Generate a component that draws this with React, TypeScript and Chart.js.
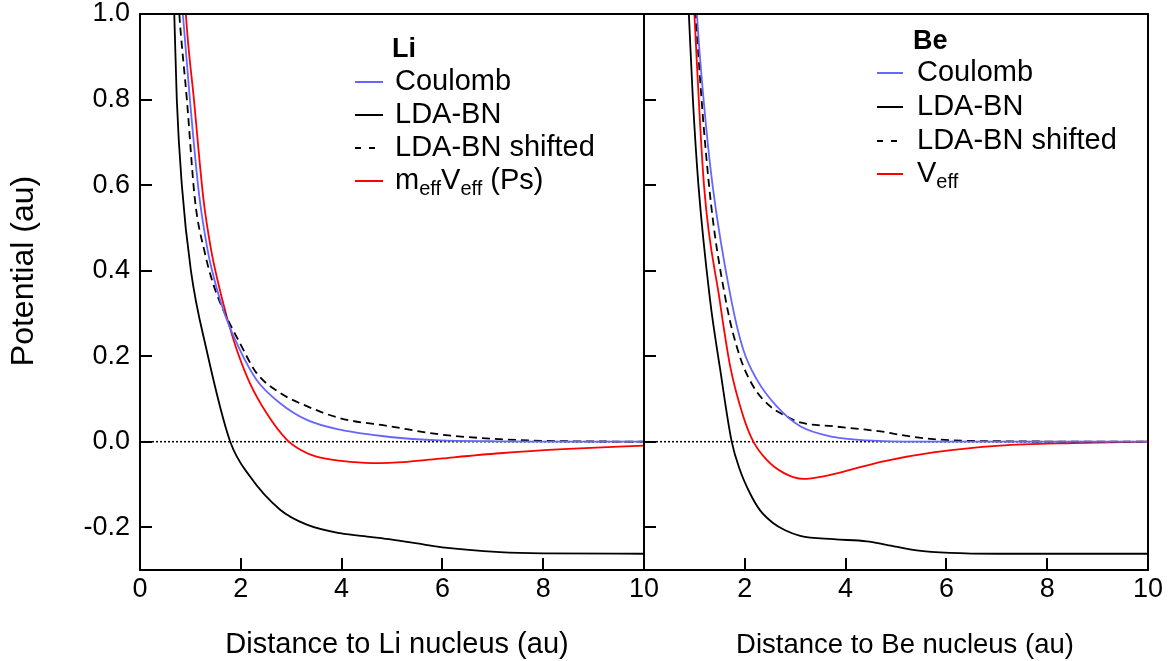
import { useEffect, useRef } from "react";
import { Chart, registerables } from "chart.js";

Chart.register(...registerables);

const FONT = '"Liberation Sans", Arial, Helvetica, sans-serif';
const BLUE = "rgb(102,102,255)";
const RED = "rgb(255,0,0)";

// tick values
const xTickValues = [0, 2, 4, 6, 8, 10];
const yTickValues = [-0.2, 0, 0.2, 0.4, 0.6, 0.8, 1.0];

// zero reference line
const zeroX = [0, 10];
const zeroY = [0, 0];

// ---- Li panel ----
const liCoulombX = [0.78, 0.85, 0.99, 1.17, 1.34, 1.42, 1.65, 1.98, 2.31, 2.78, 3.31, 3.97, 4.96, 5.95, 7.0, 8.0, 10];
const liCoulombY = [1.12, 1.0, 0.8, 0.58, 0.449, 0.405, 0.309, 0.215, 0.145, 0.09, 0.051, 0.028, 0.011, 0.003, 0.001, 0.0, 0.0];

const liLdaX = [0.64, 0.68, 0.73, 0.83, 1.01, 1.32, 1.79, 2.18, 2.78, 3.31, 3.97, 4.6, 5.0, 5.5, 6.0, 7.14, 8.0, 10];
const liLdaY = [1.12, 1.0, 0.8, 0.6, 0.4, 0.215, 0.0, -0.081, -0.159, -0.194, -0.214, -0.223, -0.229, -0.238, -0.247, -0.258, -0.261, -0.262];

const liShiftX = [0.72, 0.78, 0.93, 1.09, 1.29, 1.45, 1.65, 1.98, 2.31, 2.78, 3.31, 3.97, 4.96, 5.95, 7.14, 8.0, 10];
const liShiftY = [1.12, 1.0, 0.8, 0.566, 0.44, 0.37, 0.309, 0.231, 0.161, 0.114, 0.083, 0.055, 0.036, 0.017, 0.006, 0.002, 0.0];

const liVeffX = [0.86, 0.91, 1.07, 1.26, 1.41, 1.52, 1.72, 1.92, 2.18, 2.51, 2.91, 3.2, 3.5, 4.0, 4.6, 5.3, 6.0, 7.14, 8.5, 10];
const liVeffY = [1.12, 1.0, 0.8, 0.566, 0.449, 0.387, 0.293, 0.215, 0.137, 0.067, 0.005, -0.02, -0.035, -0.045, -0.05, -0.047, -0.039, -0.027, -0.017, -0.009];

const liLabels = ["Coulomb", "LDA-BN", "LDA-BN shifted", "m_{eff}V_{eff} (Ps)"];

// ---- Be panel ----
const beCoulombX = [1.0, 1.05, 1.19, 1.36, 1.73, 1.97, 2.24, 2.63, 3.1, 3.76, 4.42, 5.5, 10];
const beCoulombY = [1.12, 1.0, 0.79, 0.6, 0.332, 0.215, 0.145, 0.083, 0.036, 0.011, 0.003, 0.0, 0.0];

const beLdaX = [0.85, 0.89, 0.97, 1.08, 1.31, 1.51, 1.74, 1.9, 2.1, 2.3, 2.56, 2.8, 3.1, 3.76, 4.42, 4.81, 5.41, 6.07, 7.06, 10];
const beLdaY = [1.1, 1.0, 0.8, 0.6, 0.332, 0.17, 0.0, -0.065, -0.12, -0.16, -0.19, -0.207, -0.22, -0.228, -0.233, -0.241, -0.254, -0.26, -0.262, -0.262];

const beShiftX = [0.99, 1.03, 1.29, 1.62, 1.9, 2.17, 2.5, 2.83, 3.1, 3.76, 4.42, 4.81, 5.08, 5.74, 7.06, 10];
const beShiftY = [1.1, 1.0, 0.6, 0.332, 0.2, 0.129, 0.083, 0.059, 0.045, 0.036, 0.028, 0.022, 0.016, 0.006, 0.001, 0.0];

const beVeffX = [0.96, 1.0, 1.19, 1.5, 1.71, 1.97, 2.17, 2.43, 2.77, 3.16, 3.56, 4.09, 4.75, 5.74, 7.06, 8.5, 10];
const beVeffY = [1.1, 1.0, 0.6, 0.332, 0.176, 0.059, 0.0, -0.042, -0.073, -0.087, -0.081, -0.066, -0.046, -0.025, -0.009, -0.003, 0.0];

const beLabels = ["Coulomb", "LDA-BN", "LDA-BN shifted", "V_{eff}"];

const seriesColors = [BLUE, "#000", "#000", RED];
const seriesDashes: number[][] = [[], [], [8, 5], []];

const pts = (xs: number[], ys: number[]) => xs.map((x, i) => ({ x, y: ys[i] }));

function drawRich(ctx: CanvasRenderingContext2D, text: string, x: number, y: number, size: number) {
  const re = /_\{([^}]*)\}/g;
  const parts: { t: string; sub: boolean }[] = [];
  let last = 0;
  let m: RegExpExecArray | null;
  while ((m = re.exec(text))) {
    if (m.index > last) parts.push({ t: text.slice(last, m.index), sub: false });
    parts.push({ t: m[1], sub: true });
    last = re.lastIndex;
  }
  if (last < text.length) parts.push({ t: text.slice(last), sub: false });
  let cx = x;
  for (const p of parts) {
    const fs = p.sub ? Math.round(size * 0.68) : size;
    ctx.font = `${fs}px ${FONT}`;
    ctx.fillText(p.t, cx, p.sub ? y + size * 0.3 : y);
    cx += ctx.measureText(p.t).width;
  }
}

interface PanelCfg {
  width: number;
  offset: number;
  yAxisWidth: number;
  padRight: number;
  showYLabels: boolean;
  hideFirstX: boolean;
  xTitle: string;
  xTitleX: number;
  xTitleSize: number;
  yTitle?: string;
  legendTitle: string;
  legendTitleX: number;
  legendTitleY: number;
  legendLineX0: number;
  legendLineX1: number;
  legendTextX: number;
  legendRows: number[];
  labels: string[];
  series: { x: number[]; y: number[] }[];
}

function makePlugin(cfg: PanelCfg) {
  return {
    id: "frameAndLegend",
    afterDatasetsDraw(chart: any) {
      const ctx: CanvasRenderingContext2D = chart.ctx;
      const { left, right, top, bottom } = chart.chartArea;
      const xs = chart.scales.x;
      const ys = chart.scales.y;
      const o = cfg.offset;
      ctx.save();
      ctx.strokeStyle = "#000";
      ctx.lineWidth = 2;
      ctx.setLineDash([]);
      ctx.strokeRect(left, top, right - left, bottom - top);
      ctx.beginPath();
      for (const v of yTickValues) {
        const py = Math.round(ys.getPixelForValue(v));
        ctx.moveTo(left, py);
        ctx.lineTo(left + 12, py);
      }
      for (const v of xTickValues) {
        const px = Math.round(xs.getPixelForValue(v));
        ctx.moveTo(px, bottom);
        ctx.lineTo(px, bottom - 12);
      }
      ctx.stroke();

      // legend
      ctx.fillStyle = "#000";
      ctx.textBaseline = "middle";
      ctx.textAlign = "left";
      ctx.font = `bold 27px ${FONT}`;
      ctx.fillText(cfg.legendTitle, cfg.legendTitleX - o, cfg.legendTitleY);
      cfg.labels.forEach((lab, i) => {
        const y = cfg.legendRows[i];
        ctx.strokeStyle = seriesColors[i];
        ctx.lineWidth = 2;
        ctx.setLineDash(seriesDashes[i].length ? [6, 8] : []);
        ctx.beginPath();
        ctx.moveTo(cfg.legendLineX0 - o, y);
        ctx.lineTo(cfg.legendLineX1 - o, y);
        ctx.stroke();
        ctx.setLineDash([]);
        ctx.fillStyle = "#000";
        drawRich(ctx, lab, cfg.legendTextX - o, y, 29);
      });

      // axis titles
      ctx.textAlign = "center";
      ctx.font = `${cfg.xTitleSize}px ${FONT}`;
      ctx.fillText(cfg.xTitle, cfg.xTitleX - o, 645);
      if (cfg.yTitle) {
        ctx.save();
        ctx.translate(24 - o, 271);
        ctx.rotate(-Math.PI / 2);
        ctx.font = `32px ${FONT}`;
        ctx.fillText(cfg.yTitle, 0, 0);
        ctx.restore();
      }
      ctx.restore();
    },
  };
}

function makeChart(canvas: HTMLCanvasElement, cfg: PanelCfg) {
  const datasets: any[] = cfg.series.map((s, i) => ({
    data: pts(s.x, s.y),
    borderColor: seriesColors[i],
    borderWidth: 1.8,
    borderDash: seriesDashes[i],
    pointRadius: 0,
    cubicInterpolationMode: "monotone",
    fill: false,
  }));
  datasets.push({
    data: pts(zeroX, zeroY),
    borderColor: "#000",
    borderWidth: 1.5,
    borderDash: [2, 2],
    pointRadius: 0,
    fill: false,
  });
  const tickFont = { size: 27, family: FONT, lineHeight: 1.2 };
  return new Chart(canvas, {
    type: "line",
    data: { datasets },
    options: {
      animation: false,
      responsive: false,
      devicePixelRatio: 1,
      events: [],
      layout: { padding: { left: 0, right: cfg.padRight, top: 14, bottom: 0 } },
      plugins: { legend: { display: false }, tooltip: { enabled: false } },
      scales: {
        x: {
          type: "linear",
          min: 0,
          max: 10,
          afterBuildTicks: (s: any) => {
            s.ticks = xTickValues.map((v) => ({ value: v }));
          },
          afterFit: (s: any) => {
            s.height = 91;
            s.paddingLeft = 0;
            s.paddingRight = 0;
          },
          grid: { display: false, drawTicks: false },
          border: { display: false },
          ticks: {
            padding: 3,
            color: "#000",
            font: tickFont,
            maxRotation: 0,
            autoSkip: false,
            callback: (v: any) => (cfg.hideFirstX && Number(v) === 0 ? "" : String(v)),
          },
        },
        y: {
          type: "linear",
          min: -0.3,
          max: 1.0,
          afterBuildTicks: (s: any) => {
            s.ticks = yTickValues.map((v) => ({ value: v }));
          },
          afterFit: (s: any) => {
            s.width = cfg.yAxisWidth;
            s.paddingTop = 0;
            s.paddingBottom = 0;
          },
          grid: { display: false, drawTicks: false },
          border: { display: false },
          ticks: {
            display: cfg.showYLabels,
            padding: 10,
            color: "#000",
            font: tickFont,
            callback: (v: any) => Number(v).toFixed(1),
          },
        },
      },
    } as any,
    plugins: [makePlugin(cfg) as any],
  });
}

const leftCfg: PanelCfg = {
  width: 680,
  offset: 0,
  yAxisWidth: 140,
  padRight: 36,
  showYLabels: true,
  hideFirstX: false,
  xTitle: "Distance to Li nucleus (au)",
  xTitleX: 397,
  xTitleSize: 29,
  yTitle: "Potential (au)",
  legendTitle: "Li",
  legendTitleX: 392,
  legendTitleY: 50,
  legendLineX0: 355,
  legendLineX1: 383,
  legendTextX: 395,
  legendRows: [82, 115, 148, 181],
  labels: liLabels,
  series: [
    { x: liCoulombX, y: liCoulombY },
    { x: liLdaX, y: liLdaY },
    { x: liShiftX, y: liShiftY },
    { x: liVeffX, y: liVeffY },
  ],
};

const rightCfg: PanelCfg = {
  width: 570,
  offset: 600,
  yAxisWidth: 44,
  padRight: 22,
  showYLabels: false,
  hideFirstX: true,
  xTitle: "Distance to Be nucleus (au)",
  xTitleX: 905,
  xTitleSize: 27.5,
  legendTitle: "Be",
  legendTitleX: 913,
  legendTitleY: 42,
  legendLineX0: 877,
  legendLineX1: 903,
  legendTextX: 917,
  legendRows: [73, 107, 141, 174],
  labels: beLabels,
  series: [
    { x: beCoulombX, y: beCoulombY },
    { x: beLdaX, y: beLdaY },
    { x: beShiftX, y: beShiftY },
    { x: beVeffX, y: beVeffY },
  ],
};

export default function App() {
  const leftRef = useRef<HTMLCanvasElement>(null);
  const rightRef = useRef<HTMLCanvasElement>(null);

  useEffect(() => {
    Chart.defaults.font.family = FONT;
    const c1 = makeChart(leftRef.current!, leftCfg);
    const c2 = makeChart(rightRef.current!, rightCfg);
    return () => {
      c1.destroy();
      c2.destroy();
    };
  }, []);

  return (
    <div style={{ position: "absolute", left: 0, top: 0, width: 1170, height: 661, background: "#fff" }}>
      <canvas
        ref={leftRef}
        width={leftCfg.width}
        height={661}
        style={{ position: "absolute", left: leftCfg.offset, top: 0 }}
      />
      <canvas
        ref={rightRef}
        width={rightCfg.width}
        height={661}
        style={{ position: "absolute", left: rightCfg.offset, top: 0 }}
      />
    </div>
  );
}
